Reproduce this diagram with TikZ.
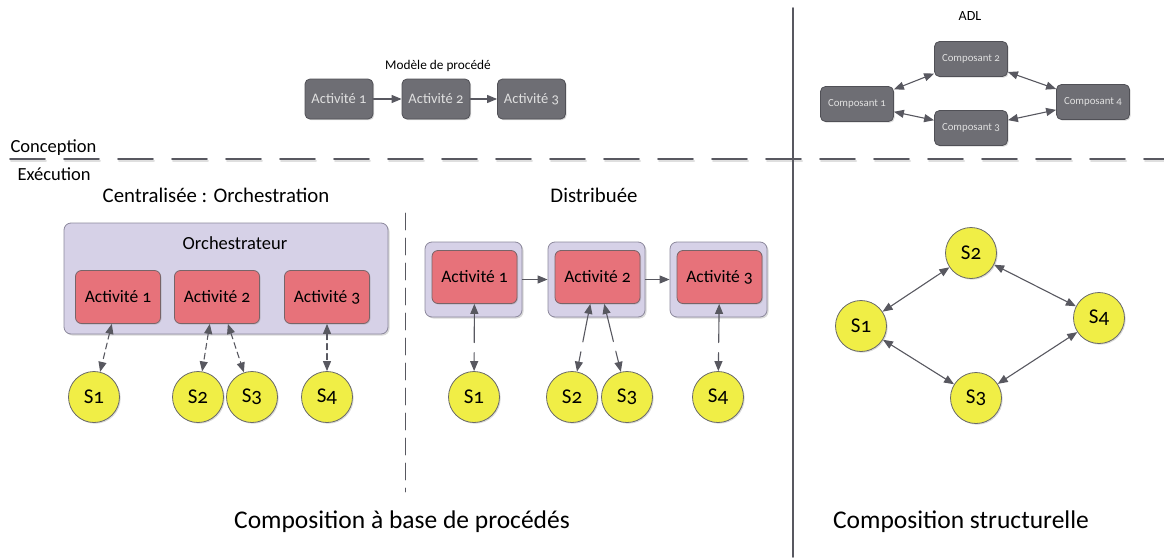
\documentclass[tikz,border=0pt]{standalone}
\usepackage{fontspec}
\setmainfont{Carlito}[Numbers=OldStyle]
\usetikzlibrary{arrows.meta}
\usetikzlibrary{shadows}
\definecolor{modfill}{RGB}{110,110,116}
\definecolor{moddraw}{RGB}{80,80,86}
\definecolor{actfill}{RGB}{231,114,122}
\definecolor{actdraw}{RGB}{120,100,104}
\definecolor{orchfill}{RGB}{214,209,231}
\definecolor{orchdraw}{RGB}{140,136,156}
\definecolor{svcfill}{RGB}{240,238,70}
\definecolor{svcdraw}{RGB}{105,105,105}
\definecolor{linegrey}{RGB}{88,88,96}

\begin{document}
\begin{tikzpicture}[line cap=round,line join=round,>={Triangle[length=10pt,width=8pt]},x=1pt,y=-1pt,
  modbox/.style={draw=moddraw,fill=modfill,rounded corners=5pt,line width=0.8pt,
    text=white!88!black,font=\fontsize{14.5}{16}\selectfont,
    minimum width=68pt,minimum height=40pt,inner sep=1pt,
    drop shadow={shadow xshift=1.2pt,shadow yshift=-1.2pt,opacity=.3}},
  compbox/.style={modbox,minimum width=73pt,minimum height=35pt,font=\fontsize{10.8}{12}\selectfont},
  actbox/.style={draw=actdraw,fill=actfill,rounded corners=6pt,line width=0.8pt,
    font=\fontsize{17.5}{20}\selectfont,minimum width=85pt,minimum height=53pt,inner sep=1pt,
    drop shadow={shadow xshift=1pt,shadow yshift=-1pt,opacity=.3}},
  orchbox/.style={draw=orchdraw,fill=orchfill,rounded corners=7pt,line width=0.8pt,
    drop shadow={shadow xshift=1.5pt,shadow yshift=-1.5pt,opacity=.3}},
  svc/.style={circle,draw=svcdraw,fill=svcfill,line width=0.8pt,minimum size=51pt,inner sep=0pt,
    font=\fontsize{21}{24}\selectfont,
    drop shadow={shadow xshift=1.2pt,shadow yshift=-1.2pt,opacity=.3}},
  lnk/.style={draw=linegrey,line width=1.1pt},
  titre/.style={font=\fontsize{20.8}{24}\selectfont},
  bas/.style={font=\fontsize{25.5}{30}\selectfont}]
\useasboundingbox (0,0) rectangle (1164,557);

% separations
\draw [gray!25,line width=2pt,dash pattern=on 35pt off 19pt] (11,161)--(1164,161);
\draw [linegrey,line width=1.8pt,dash pattern=on 35pt off 19pt] (10,159)--(1164,159);
\draw [linegrey,line width=1.8pt] (793,8)--(793,557);
\draw [linegrey,line width=0.8pt,dash pattern=on 17pt off 8pt] (405,213)--(405,492);
\node[anchor=west,font=\fontsize{18.5}{21}\selectfont] (conc) at (7,148) {Conception};
\node[anchor=west,font=\fontsize{18.5}{21}\selectfont] (exec) at (14,174) {Exécution};

% modele de procede
\node[font=\fontsize{13.3}{15}\selectfont] (modtitre) at (438,66) {Modèle de procédé};
\node[modbox] (m1) at (339,99) {Activité 1};
\node[modbox] (m2) at (436,99) {Activité 2};
\node[modbox] (m3) at (531.5,99) {Activité 3};
\draw [lnk,->] (m1)--(m2);
\draw [lnk,->] (m2)--(m3);

% ADL
\node[font=\fontsize{14}{16}\selectfont] (adl) at (970,16) {ADL};
\node[compbox] (c1) at (857,104) {Composant 1};
\node[compbox] (c2) at (971,59) {Composant 2};
\node[compbox] (c3) at (971,128) {Composant 3};
\node[compbox] (c4) at (1093,102) {Composant 4};
\draw [lnk,<->] (c1)--(c2);
\draw [lnk,<->] (c2)--(c4);
\draw [lnk,<->] (c1)--(c3);
\draw [lnk,<->] (c3)--(c4);

% orchestration
\node[titre] (tcent) at (216,195) {Centralisée : Orchestration};
\node[orchbox,minimum width=324pt,minimum height=111pt] (orch) at (226,278.5) {};
\node[font=\fontsize{18.5}{21}\selectfont] (orchtitre) at (235,243) {Orchestrateur};
\node[actbox] (oa1) at (118,297) {Activité 1};
\node[actbox] (oa2) at (217,297) {Activité 2};
\node[actbox] (oa3) at (327,297) {Activité 3};
\node[svc] (os1) at (94,397) {S1};
\node[svc] (os2) at (198,397) {S2};
\node[svc] (os3) at (252,397) {S3};
\node[svc] (os4) at (327,397) {S4};
\draw [lnk,dash pattern=on 6pt off 4pt,<->] (oa1.-103)--(os1);
\draw [lnk,dash pattern=on 6pt off 4pt,<->] (oa2.-105)--(os2);
\draw [lnk,dash pattern=on 6pt off 4pt,<->] (oa2.-68)--(os3);
\draw [lnk,dash pattern=on 6pt off 4pt,<->] (oa3)--(os4);

% distribuee
\node[titre] (tdist) at (594,195) {Distribuée};
\foreach \i/\x in {1/473.5,2/596.5,3/718.5} {
  \node[orchbox,minimum width=97pt,minimum height=75pt] (d\i) at (\x,279.5) {};
  \node[actbox] (da\i) at (\x+1,277) {Activité \i};
}
\node[svc] (ds1) at (474,397) {S1};
\node[svc] (ds2) at (572,397) {S2};
\node[svc] (ds3) at (627,397) {S3};
\node[svc] (ds4) at (718,397) {S4};
\draw [lnk,->] (d1)--(d2);
\draw [lnk,->] (d2)--(d3);
\draw [lnk,dash pattern=on 29pt off 10pt,<->] (da1)--(ds1);
\draw [lnk,dash pattern=on 29pt off 10pt,<->] (da2.-105)--(ds2);
\draw [lnk,dash pattern=on 29pt off 10pt,<->] (da2.-76)--(ds3);
\draw [lnk,dash pattern=on 29pt off 10pt,<->] (da3)--(ds4);

% structurelle
\node[svc] (s1) at (861,326) {S1};
\node[svc] (s2) at (971,253) {S2};
\node[svc] (s3) at (976,398) {S3};
\node[svc] (s4) at (1099,318) {S4};
\draw [lnk,<->] (s1)--(s2);
\draw [lnk,<->] (s2)--(s4);
\draw [lnk,<->] (s1)--(s3);
\draw [lnk,<->] (s3)--(s4);

\node[bas] (bproc) at (402,522) {Composition à base de procédés};
\node[bas] (bstruct) at (961,522) {Composition structurelle};
\end{tikzpicture}
\end{document}
